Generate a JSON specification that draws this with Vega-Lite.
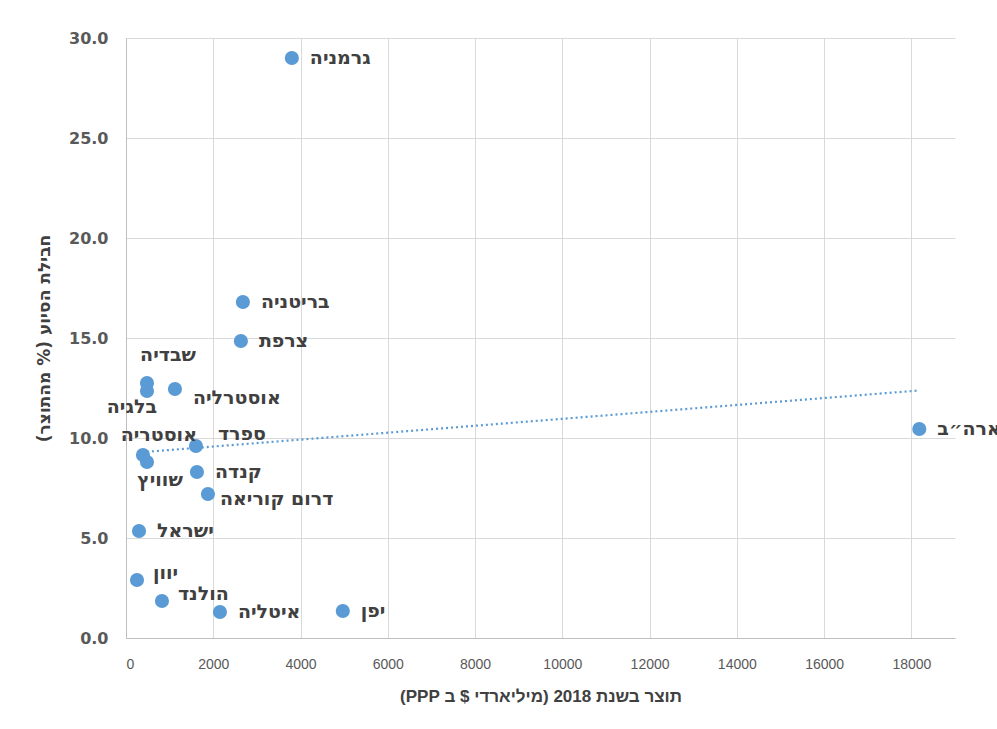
{
  "$schema": "https://vega.github.io/schema/vega-lite/v6.json",
  "width": 829,
  "height": 600,
  "autosize": {"type": "none"},
  "padding": {"left": 126, "top": 38, "right": 42, "bottom": 91},
  "background": "white",
  "config": {
    "view": {"stroke": null},
    "axis": {
      "gridColor": "#d9d9d9",
      "gridWidth": 1,
      "domainColor": "#bfbfbf",
      "ticks": false,
      "labelColor": "#595959",
      "titleColor": "#404040"
    },
    "text": {"font": "DejaVu Sans", "fontSize": 19, "fontWeight": "bold", "color": "#404040", "baseline": "middle"}
  },
  "data": {
    "values": [
      {"country": "גרמניה", "gdp": 3801, "aid": 29.0},
      {"country": "בריטניה", "gdp": 2679, "aid": 16.8},
      {"country": "צרפת", "gdp": 2633, "aid": 14.85},
      {"country": "שבדיה", "gdp": 481, "aid": 12.75},
      {"country": "בלגיה", "gdp": 481, "aid": 12.35},
      {"country": "אוסטרליה", "gdp": 1122, "aid": 12.45},
      {"country": "ספרד", "gdp": 1603, "aid": 9.6},
      {"country": "אוסטריה", "gdp": 389, "aid": 9.15},
      {"country": "שוויץ", "gdp": 481, "aid": 8.8},
      {"country": "קנדה", "gdp": 1626, "aid": 8.3},
      {"country": "דרום קוריאה", "gdp": 1878, "aid": 7.2},
      {"country": "ישראל", "gdp": 298, "aid": 5.35},
      {"country": "יוון", "gdp": 252, "aid": 2.9},
      {"country": "הולנד", "gdp": 824, "aid": 1.85},
      {"country": "איטליה", "gdp": 2153, "aid": 1.3},
      {"country": "יפן", "gdp": 4969, "aid": 1.35},
      {"country": "ארה״ב", "gdp": 18182, "aid": 10.45}
    ]
  },
  "encoding": {
    "x": {
      "field": "gdp", "type": "quantitative",
      "scale": {"domain": [0, 19000], "nice": false, "zero": true},
      "axis": {
        "values": [0, 2000, 4000, 6000, 8000, 10000, 12000, 14000, 16000, 18000],
        "format": "d",
        "labelFont": "Liberation Sans",
        "labelFontSize": 14,
        "labelPadding": 19,
        "title": "\u202bתוצר בשנת 2018 (מיליארדי $ ב PPP)\u202c",
        "titleFont": "Liberation Sans",
        "titleFontSize": 17,
        "titleFontWeight": "bold",
        "titlePadding": 17
      }
    },
    "y": {
      "field": "aid", "type": "quantitative",
      "scale": {"domain": [0, 30], "nice": false},
      "axis": {
        "values": [0, 5, 10, 15, 20, 25, 30],
        "format": ".1f",
        "labelFont": "DejaVu Sans",
        "labelFontSize": 16,
        "labelFontWeight": "bold",
        "labelPadding": 18,
        "title": "\u202bחבילת הסיוע (% מהתוצר)\u202c",
        "titleFont": "DejaVu Sans",
        "titleFontSize": 17,
        "titleFontWeight": "bold",
        "titlePadding": 15
      }
    }
  },
  "layer": [
    {
      "mark": {"type": "line", "color": "#5b9bd5", "strokeWidth": 2.2, "strokeDash": [2, 3]},
      "transform": [{"regression": "aid", "on": "gdp"}]
    },
    {
      "mark": {"type": "circle", "color": "#5b9bd5", "size": 200, "opacity": 1}
    },
    {
      "transform": [{"filter": {"field": "country", "oneOf": ["גרמניה", "בריטניה", "צרפת", "קנדה", "ישראל", "איטליה", "יפן", "ארה״ב"]}}],
      "mark": {"type": "text", "align": "left", "dx": 18, "dy": 0},
      "encoding": {"text": {"field": "country"}}
    },
    {
      "transform": [{"filter": {"field": "country", "oneOf": ["אוסטרליה"]}}],
      "mark": {"type": "text", "align": "left", "dx": 18, "dy": 9},
      "encoding": {"text": {"field": "country"}}
    },
    {
      "transform": [{"filter": {"field": "country", "oneOf": ["דרום קוריאה"]}}],
      "mark": {"type": "text", "align": "left", "dx": 12, "dy": 5},
      "encoding": {"text": {"field": "country"}}
    },
    {
      "transform": [{"filter": {"field": "country", "oneOf": ["שבדיה"]}}],
      "mark": {"type": "text", "align": "center", "dx": 21, "dy": -28},
      "encoding": {"text": {"field": "country"}}
    },
    {
      "transform": [{"filter": {"field": "country", "oneOf": ["בלגיה"]}}],
      "mark": {"type": "text", "align": "right", "dx": 10, "dy": 16},
      "encoding": {"text": {"field": "country"}}
    },
    {
      "transform": [{"filter": {"field": "country", "oneOf": ["אוסטריה"]}}],
      "mark": {"type": "text", "align": "right", "dx": 54, "dy": -20},
      "encoding": {"text": {"field": "country"}}
    },
    {
      "transform": [{"filter": {"field": "country", "oneOf": ["ספרד"]}}],
      "mark": {"type": "text", "align": "left", "dx": 22, "dy": -12},
      "encoding": {"text": {"field": "country"}}
    },
    {
      "transform": [{"filter": {"field": "country", "oneOf": ["שוויץ"]}}],
      "mark": {"type": "text", "align": "center", "dx": 13, "dy": 18},
      "encoding": {"text": {"field": "country"}}
    },
    {
      "transform": [{"filter": {"field": "country", "oneOf": ["יוון", "הולנד"]}}],
      "mark": {"type": "text", "align": "left", "dx": 16, "dy": -7},
      "encoding": {"text": {"field": "country"}}
    }
  ]
}
